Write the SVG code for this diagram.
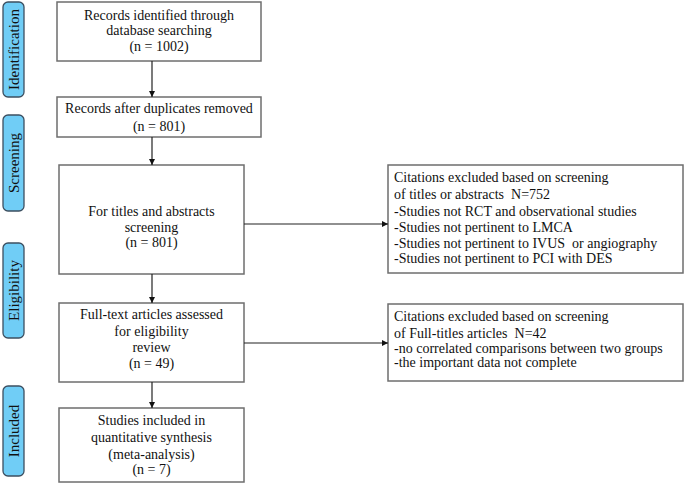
<svg xmlns="http://www.w3.org/2000/svg" width="685" height="485" viewBox="0 0 685 485">
<defs>
<style>
.box{fill:#fff;stroke:#6e6e6e;stroke-width:1.5}
.pill{fill:#70CDF6;stroke:#3c4f60;stroke-width:1.3}
.t{font-family:"Liberation Serif","Times New Roman",serif;font-size:14px;fill:#111;white-space:pre}
.p{font-size:15px}
.c{text-anchor:middle}
.con{stroke:#222;stroke-width:1.2;fill:none;marker-end:url(#ah)}
</style>
<marker id="ah" viewBox="0 0 8 8" refX="8" refY="4" markerWidth="6" markerHeight="6" markerUnits="userSpaceOnUse" orient="auto">
<path d="M0,0 L8,4 L0,8 z" fill="#111"/>
</marker>
</defs>
<rect width="685" height="485" fill="#fff"/>
<g id="phase-identification"><rect class="pill" x="3" y="2" width="21" height="95" rx="5"/><text class="t p c" font-family="Liberation Serif, serif" transform="translate(18.5,49.5) rotate(-90)">Identification</text></g>
<g id="phase-screening"><rect class="pill" x="3" y="115" width="21" height="96" rx="5"/><text class="t p c" font-family="Liberation Serif, serif" transform="translate(18.5,163) rotate(-90)">Screening</text></g>
<g id="phase-eligibility"><rect class="pill" x="3" y="243" width="21" height="95" rx="5"/><text class="t p c" font-family="Liberation Serif, serif" transform="translate(18.5,290.5) rotate(-90)">Eligibility</text></g>
<g id="phase-included"><rect class="pill" x="3" y="386" width="21" height="90" rx="5"/><text class="t p c" font-family="Liberation Serif, serif" transform="translate(18.5,431) rotate(-90)">Included</text></g>

<g font-family="Liberation Serif, serif">
<g id="n1"><rect class="box" x="57" y="2" width="204" height="59"/>
<text class="t c" x="159" y="20">Records identified through</text>
<text class="t c" x="159" y="35">database searching</text>
<text class="t c" x="159" y="51">(n = 1002)</text></g>
<g id="n2"><rect class="box" x="57" y="97" width="204" height="40"/>
<text class="t c" x="159" y="113">Records after duplicates removed</text>
<text class="t c" x="159" y="131">(n = 801)</text></g>
<g id="n3"><rect class="box" x="59" y="165" width="185" height="109"/>
<text class="t c" x="151.5" y="216">For titles and abstracts</text>
<text class="t c" x="151.5" y="232">screening</text>
<text class="t c" x="151.5" y="247">(n = 801)</text></g>
<g id="n4"><rect class="box" x="59" y="303" width="185" height="79"/>
<text class="t c" x="151.5" y="319">Full-text articles assessed</text>
<text class="t c" x="151.5" y="336">for eligibility</text>
<text class="t c" x="151.5" y="352">review</text>
<text class="t c" x="151.5" y="368">(n = 49)</text></g>
<g id="n5"><rect class="box" x="59" y="408" width="185" height="74"/>
<text class="t c" x="151.5" y="425">Studies included in</text>
<text class="t c" x="151.5" y="442">quantitative synthesis</text>
<text class="t c" x="151.5" y="459">(meta-analysis)</text>
<text class="t c" x="151.5" y="474">(n = 7)</text></g>
<g id="ex1"><rect class="box" x="388" y="165" width="295" height="108"/>
<text class="t" x="394" y="182">Citations excluded based on screening</text>
<text class="t" x="394" y="199" xml:space="preserve">of titles or abstracts  N=752</text>
<text class="t" x="394" y="216">-Studies not RCT and observational studies</text>
<text class="t" x="394" y="232">-Studies not pertinent to LMCA</text>
<text class="t" x="394" y="248" xml:space="preserve">-Studies not pertinent to IVUS  or angiography</text>
<text class="t" x="394" y="263">-Studies not pertinent to PCI with DES</text></g>
<g id="ex2"><rect class="box" x="388" y="304" width="295" height="77"/>
<text class="t" x="394" y="321">Citations excluded based on screening</text>
<text class="t" x="394" y="338" xml:space="preserve">of Full-titles articles  N=42</text>
<text class="t" x="394" y="353">-no correlated comparisons between two groups</text>
<text class="t" x="394" y="367">-the important data not complete</text></g>
</g>

<g id="connectors">
<line class="con" x1="152" y1="61" x2="152" y2="97"/>
<line class="con" x1="152" y1="137" x2="152" y2="165"/>
<line class="con" x1="152" y1="274" x2="152" y2="303"/>
<line class="con" x1="152" y1="382" x2="152" y2="408"/>
<line class="con" x1="244" y1="224" x2="388" y2="224"/>
<line class="con" x1="244" y1="343" x2="388" y2="343"/>
</g>
</svg>
